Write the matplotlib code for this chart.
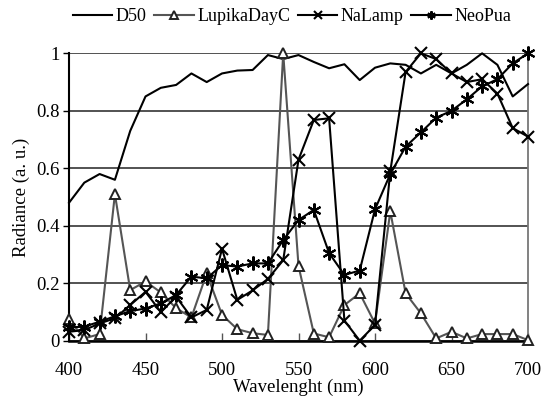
import matplotlib
matplotlib.use("Agg")
import matplotlib.pyplot as plt
from matplotlib import font_manager
import os, glob

# --- register a Times-like serif font file directly, if possible ---
font_name = None
cands = []
for pat in ['/usr/share/fonts/**/LiberationSerif-Regular.ttf',
            '/usr/share/fonts/**/Tinos-Regular.ttf']:
    cands += glob.glob(pat, recursive=True)
mpl_ttf = os.path.join(matplotlib.get_data_path(), 'fonts', 'ttf')
cands += [os.path.join(mpl_ttf, 'STIXGeneral.ttf')]
for path in cands:
    if os.path.exists(path):
        try:
            font_manager.fontManager.addfont(path)
            font_name = font_manager.FontProperties(fname=path).get_name()
            break
        except Exception:
            font_name = None
plt.rcParams['font.family'] = [font_name, 'DejaVu Serif'] if font_name else ['DejaVu Serif']

wavelength = list(range(400, 701, 10))

d50 = [0.48, 0.55, 0.58, 0.56, 0.73, 0.85, 0.88, 0.89, 0.93, 0.90,
       0.93, 0.94, 0.942, 0.994, 0.98, 0.994, 0.97, 0.948, 0.962, 0.907,
       0.95, 0.965, 0.96, 0.93, 0.96, 0.93, 0.96, 1.0, 0.96, 0.85, 0.893]

lupika = [0.074, 0.008, 0.023, 0.51, 0.176, 0.206, 0.168, 0.113, 0.081, 0.234,
          0.09, 0.04, 0.026, 0.02, 1.0, 0.26, 0.025, 0.012, 0.124, 0.165,
          0.06, 0.45, 0.165, 0.095, 0.008, 0.031, 0.008, 0.023, 0.023, 0.023, 0.002]

nalamp = [0.031, 0.037, 0.06, 0.078, 0.124, 0.17, 0.10, 0.153, 0.081, 0.107,
          0.32, 0.142, 0.175, 0.215, 0.28, 0.63, 0.768, 0.774, 0.07, 0.0,
          0.055, 0.59, 0.935, 1.0, 0.98, 0.93, 0.90, 0.91, 0.86, 0.74, 0.71]

neopua = [0.046, 0.049, 0.066, 0.085, 0.103, 0.112, 0.13, 0.159, 0.223, 0.217,
          0.263, 0.258, 0.269, 0.269, 0.35, 0.42, 0.455, 0.305, 0.229, 0.244,
          0.457, 0.58, 0.675, 0.725, 0.776, 0.80, 0.84, 0.885, 0.91, 0.965, 1.0]

series_names = ['D50', 'LupikaDayC', 'NaLamp', 'NeoPua']
xticks = [400, 450, 500, 550, 600, 650, 700]
yticks = [0, 0.2, 0.4, 0.6, 0.8, 1]
ytick_labels = ['0', '0.2', '0.4', '0.6', '0.8', '1']

fig = plt.figure(figsize=(5.53, 4.01), dpi=100)
ax = fig.add_axes([0.1248, 0.1504, 0.8300, 0.7166])

lw = 1.5
ax.plot(wavelength, d50, color='black', lw=lw, label=series_names[0], clip_on=False, zorder=3)
ax.plot(wavelength, lupika, color='#555555', lw=lw, marker='^', markersize=7,
        markerfacecolor='white', markeredgecolor='#222222', markeredgewidth=1.4,
        label=series_names[1], clip_on=False, zorder=4)
ax.plot(wavelength, nalamp, color='black', lw=lw, marker='x', markersize=9,
        markeredgewidth=1.5, label=series_names[2], clip_on=False, zorder=5)
ax.plot(wavelength, neopua, color='black', lw=lw, marker=(6, 2, 0), markersize=10,
        markeredgewidth=1.5, label=series_names[3], clip_on=False, zorder=5)

ax.set_xlim(400, 700)
ax.set_ylim(0, 1)
ax.set_xticks(xticks)
ax.set_yticks(yticks)
ax.set_yticklabels(ytick_labels)
ax.tick_params(axis='x', direction='in', length=6, width=1, labelsize=13.5, pad=15, color='#555555')
ax.tick_params(axis='y', direction='out', length=4, width=1, labelsize=13.5, pad=3)

ax.grid(axis='y', color='#444444', lw=1.3, zorder=1)
ax.set_axisbelow(True)

ax.spines['top'].set_visible(False)
ax.spines['right'].set_color('#777777')
ax.spines['right'].set_linewidth(1.3)
ax.spines['left'].set_linewidth(1.5)
ax.spines['bottom'].set_linewidth(1.8)

ax.set_xlabel('Wavelenght (nm)', fontsize=13.5, labelpad=0)
ax.set_ylabel('Radiance (a. u.)', fontsize=13.5, labelpad=4)

leg = fig.legend(loc='center', bbox_to_anchor=(0.528, 0.958), ncol=4, frameon=False,
                 fontsize=13, handlelength=2.2, columnspacing=0.4, handletextpad=0.2,
                 borderaxespad=0)
for h in leg.legend_handles:
    h.set_markersize(6)

fig.savefig('out.png', dpi=100)
